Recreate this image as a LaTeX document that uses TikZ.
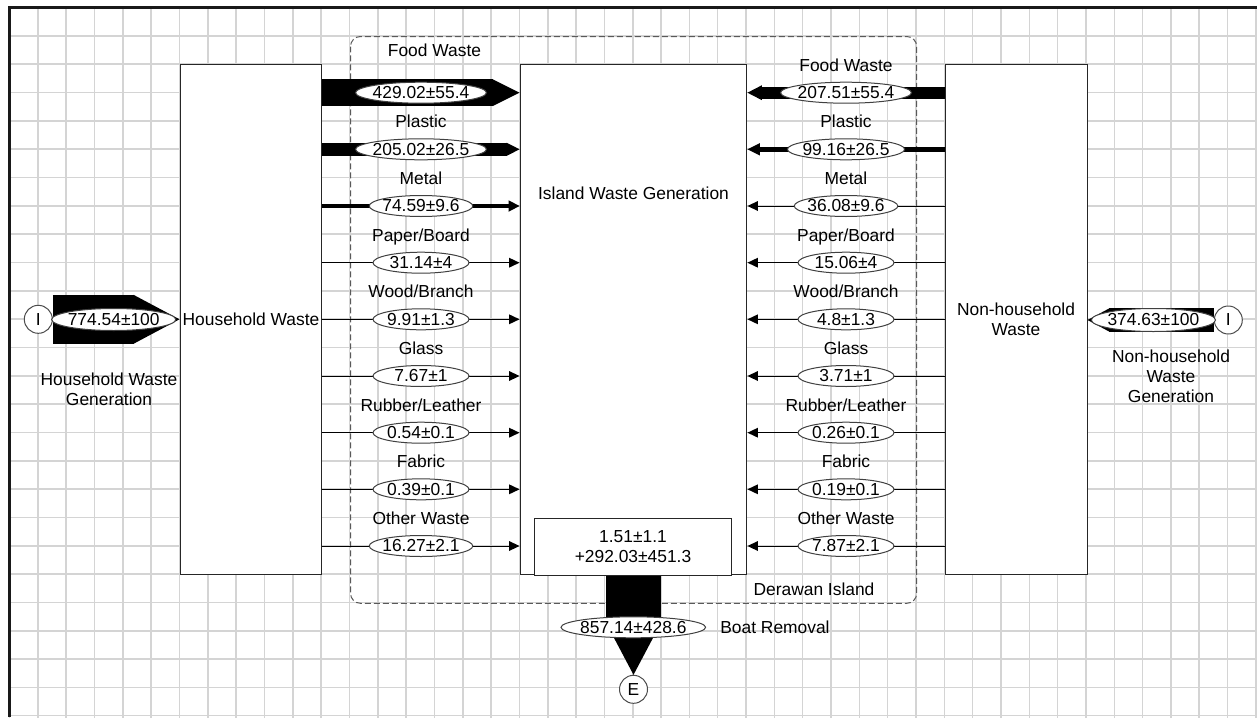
\documentclass[tikz,border=0pt]{standalone}
\usepackage{fontspec}
\setmainfont{Liberation Sans}
\usetikzlibrary{arrows.meta, shapes.geometric, backgrounds}

\begin{document}
\begin{tikzpicture}[
    x=0.02cm, y=-0.02cm,
    font=\fontsize{9.9}{11.5}\selectfont,
    paper/.style={draw=black!17, line width=0.9pt},
    frame/.style={draw=black!90, line width=0.05cm},
    system/.style={draw=black!65, line width=0.02cm, dash pattern=on 0.12cm off 0.06cm, rounded corners=0.2cm},
    box/.style={draw=black!85, fill=white, line width=0.02cm, inner sep=0.5pt, minimum height=10.22cm, align=center},
    value/.style={ellipse, draw=black!75, fill=white, line width=0.02cm, inner xsep=-0.04cm, inner ysep=0pt,
        minimum width=1.92cm, minimum height=0.42cm},
    every label/.style={inner sep=0pt, text depth=0pt, label distance=0.2cm},
    terminal/.style={circle, draw=black!70, fill=white, line width=0.02cm, minimum size=0.56cm, inner sep=0pt},
    thinflow/.style={line width=0.02cm, -{Triangle[length=0.21cm, width=0.2cm, line width=0pt]}},
    flow/.style n args={3}{line width=#1, -{Triangle[length=#2, width=#3, line width=0pt]}}
]
    \useasboundingbox (0,0) rectangle (1257,717);

    \begin{scope}[on background layer]
        \draw[paper, step=0.56667cm, shift={(9.5,7.5)}] (0,710) grid (1248,0);
        \draw[frame] (9.5,717) |- (1257,7.5);
        \draw[system] (350.5,36.5) rectangle (916.7,603.3);
    \end{scope}

    % stocks
    \node[box, minimum width=2.84cm] (hh) at (251,319.5) {Household Waste};
    \node[box, minimum width=4.54cm] (isl) at (633.5,319.5) {};
    \node[box, minimum width=2.84cm] (nh) at (1016,319.5) {Non-household\\Waste};
    \node[box, minimum width=3.96cm, minimum height=1.14cm] (stock) at (633,546.5) {1.51±1.1\\+292.03±451.3};
    \node (islname) at (633.5,193) {Island Waste Generation};

    % sources and sink
    \node[terminal] (srcH) at (38.3,319.3) {I};
    \node[terminal] (srcN) at (1228.3,320) {I};
    \node[terminal] (sink) at (633.5,689.3) {E};

    % household flows
    \node[value, label={[label distance=0.5cm, xshift=0.27cm]above:Food Waste}] (hfood) at (421,92.7) {429.02±55.4};
    \node[value, label=above:Plastic] (hplastic) at (421,149.3) {205.02±26.5};
    \node[value, label=above:Metal] (hmetal) at (421,206) {74.59±9.6};
    \node[value, label=above:Paper/Board] (hpaper) at (421,262.7) {31.14±4};
    \node[value, label=above:Wood/Branch] (hwood) at (421,319.3) {9.91±1.3};
    \node[value, label=above:Glass] (hglass) at (421,376) {7.67±1};
    \node[value, label=above:Rubber/Leather] (hrubber) at (421,432.7) {0.54±0.1};
    \node[value, label=above:Fabric] (hfabric) at (421,489.3) {0.39±0.1};
    \node[value, label=above:Other Waste] (hother) at (421,546) {16.27±2.1};

    % non-household flows
    \node[value, label=above:Food Waste] (nfood) at (846,92.7) {207.51±55.4};
    \node[value, label=above:Plastic] (nplastic) at (846,149.3) {99.16±26.5};
    \node[value, label=above:Metal] (nmetal) at (846,206) {36.08±9.6};
    \node[value, label=above:Paper/Board] (npaper) at (846,262.7) {15.06±4};
    \node[value, label=above:Wood/Branch] (nwood) at (846,319.3) {4.8±1.3};
    \node[value, label=above:Glass] (nglass) at (846,376) {3.71±1};
    \node[value, label=above:Rubber/Leather] (nrubber) at (846,432.7) {0.26±0.1};
    \node[value, label=above:Fabric] (nfabric) at (846,489.3) {0.19±0.1};
    \node[value, label=above:Other Waste] (nother) at (846,546) {7.87±2.1};

    % inputs and output
    \node[value, minimum height=0.44cm] (hgen) at (113.7,319.5) {774.54±100};
    \node[value, minimum height=0.46cm] (ngen) at (1153.4,320) {374.63±100};
    \node[value] (boat) at (633.3,627.3) {857.14±428.6};

    \node[align=center] (hgenname) at (109,389) {Household Waste\\Generation};
    \node[align=center] (ngenname) at (1171,376.5) {Non-household\\Waste\\Generation};
    \node (boatname) at (775,627.3) {Boat Removal};
    \node (islandname) at (814,589.3) {Derawan Island};

    \begin{scope}[on background layer]
        \draw[flow={0.98cm}{0.92cm}{0.98cm}] (srcH) -- (srcH -| hh.west);
        \draw[flow={0.47cm}{0.44cm}{0.47cm}] (srcN) -- (srcN -| nh.east);
        \draw[flow={1.1cm}{1.04cm}{1.1cm}] (isl.south) -- (sink);

        \draw[flow={0.54cm}{0.54cm}{0.54cm}] (hh.east |- hfood) -- (isl.west |- hfood);
        \draw[flow={0.258cm}{0.26cm}{0.266cm}] (hh.east |- hplastic) -- (isl.west |- hplastic);
        \draw[flow={0.094cm}{0.22cm}{0.23cm}] (hh.east |- hmetal) -- (isl.west |- hmetal);
        \draw[thinflow] (hh.east |- hpaper) -- (isl.west |- hpaper);
        \draw[thinflow] (hh.east |- hwood) -- (isl.west |- hwood);
        \draw[thinflow] (hh.east |- hglass) -- (isl.west |- hglass);
        \draw[thinflow] (hh.east |- hrubber) -- (isl.west |- hrubber);
        \draw[thinflow] (hh.east |- hfabric) -- (isl.west |- hfabric);
        \draw[thinflow] (hh.east |- hother) -- (isl.west |- hother);

        \draw[flow={0.24cm}{0.29cm}{0.3cm}] (nh.west |- nfood) -- (isl.east |- nfood);
        \draw[flow={0.1cm}{0.25cm}{0.25cm}] (nh.west |- nplastic) -- (isl.east |- nplastic);
        \draw[thinflow] (nh.west |- nmetal) -- (isl.east |- nmetal);
        \draw[thinflow] (nh.west |- npaper) -- (isl.east |- npaper);
        \draw[thinflow] (nh.west |- nwood) -- (isl.east |- nwood);
        \draw[thinflow] (nh.west |- nglass) -- (isl.east |- nglass);
        \draw[thinflow] (nh.west |- nrubber) -- (isl.east |- nrubber);
        \draw[thinflow] (nh.west |- nfabric) -- (isl.east |- nfabric);
        \draw[thinflow] (nh.west |- nother) -- (isl.east |- nother);
    \end{scope}
\end{tikzpicture}
\end{document}
